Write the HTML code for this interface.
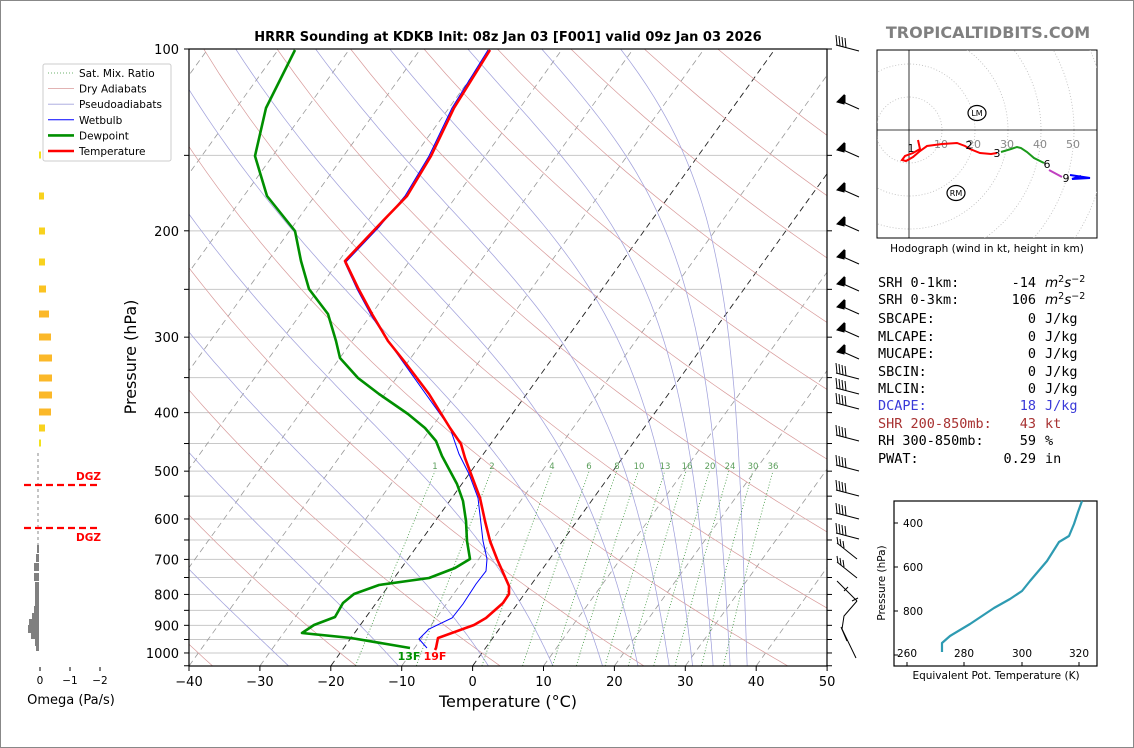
<!DOCTYPE html>
<html><head><meta charset="utf-8"><style>
html,body{margin:0;padding:0;background:#fff}
#w{position:relative;width:1132px;height:746px;border:1px solid #888;overflow:hidden;background:#fff}
svg{position:absolute;left:0;top:0}
text{font-family:"DejaVu Sans","Liberation Sans",sans-serif}
.m{font-family:"DejaVu Sans Mono","Liberation Mono",monospace;font-size:13.5px}
</style></head><body><div id="w">
<svg id="s" width="1134" height="748" viewBox="0 0 1134 748" xmlns="http://www.w3.org/2000/svg">
<defs><clipPath id="cp"><rect x="188" y="48" width="638" height="617"/></clipPath></defs>
<g id="bg" clip-path="url(#cp)"></g>
<g id="fg"></g>
</svg>
</div>
<script>
var NS="http://www.w3.org/2000/svg";
function el(par,tag,at,txt){var e=document.createElementNS(NS,tag);for(var k in at)e.setAttribute(k,at[k]);if(txt!==undefined)e.textContent=txt;par.appendChild(e);return e;}
var bg=document.getElementById('bg'),fg=document.getElementById('fg');
function yP(p){return 48+262.3*Math.log(p/100);}
function xT(T,p){return 188+(T+40)*7.09+(665-yP(p))*0.72;}
function pl(par,pts,st){return el(par,'polyline',Object.assign({points:pts.map(function(a){return a[0].toFixed(1)+','+a[1].toFixed(1)}).join(' '),fill:'none'},st));}
for(var p=100;p<=1000;p+=50){el(bg,'line',{x1:188,x2:826,y1:yP(p),y2:yP(p),stroke:'#c8c8c8','stroke-width':1});}
for(var T=-120;T<=50;T+=10){var blk=(T==0||T==-20);el(bg,'line',{x1:xT(T,1050),y1:yP(1050),x2:xT(T,100),y2:yP(100),stroke:blk?'#222':'#999','stroke-width':blk?0.9:0.8,'stroke-dasharray':'6,4'});}
for(var T0=-40;T0<=200;T0+=20){var th=T0+273.15,pts=[];for(var p=1050;p>=100;p-=10){pts.push([xT(th*Math.pow(p/1000,0.2857)-273.15,p),yP(p)]);}pl(bg,pts,{stroke:'#d89a9a','stroke-width':0.7});}
function dTdp(T,p){var tc=T-273.15;var es=6.112*Math.exp(17.67*tc/(tc+243.5));var rs=0.622*es/(p-es);var n=(287*T+2.5e6*rs)/p;var d=1004+(2.5e6*2.5e6*rs*0.622)/(287*T*T);return n/d;}
[-42,-26,-10.5,2.2,11.3,18.3,23.3,27.7,31,33.9,36.3,38.7].forEach(function(t){var T=t+273.15,p=1050,pts=[[xT(t,p),yP(p)]];while(p>100){var h=-5;var k1=dTdp(T,p);var k2=dTdp(T+h*k1,p+h);T+=h*(k1+k2)/2;p+=h;pts.push([xT(T-273.15,p),yP(p)]);}pl(bg,pts,{stroke:'#a2a2dc','stroke-width':0.75});});
[1,2,4,6,8,10,13,16,20,24,30,36].forEach(function(w){var pts=[];for(var p=1050;p>=500;p-=10){var e=w/1000*p/(0.622+w/1000);var l=Math.log(e/6.112);var td=243.5*l/(17.67-l);pts.push([xT(td,p),yP(p)]);}pl(bg,pts,{stroke:'#3c963c','stroke-width':0.8,'stroke-dasharray':'1,2'});});
var mlx={1:434,2:491,4:551,6:588,8:616,10:638,13:664,16:686,20:709,24:729,30:752,36:772};
for(var k in mlx)el(fg,'text',{x:mlx[k],y:468,'font-size':8.5,fill:'#5a9e5a','text-anchor':'middle'},k);
var red=[[489,49],[453,107],[430,155],[406,195],[378,224],[344,260],[357,287],[371,313],[387,340],[403,360],[428,393],[449,427],[460,443],[464,457],[470,473],[479,497],[484,520],[489,540],[496,558],[508,585],[508,593],[502,602],[485,617],[473,624],[437,637],[435,647],[434,649]];
var blu=[[487,49],[451,107],[428,155],[404,195],[378,226],[344,262],[356,288],[370,314],[387,340],[449,427],[458,453],[468,473],[477,497],[482,540],[486,558],[485,570],[475,583],[462,603],[451,617],[428,628],[418,638],[426,647]];
var grn=[[294,49],[265,107],[254,155],[266,195],[294,230],[300,260],[308,288],[327,313],[335,340],[339,357],[357,377],[378,393],[407,413],[424,427],[435,440],[441,455],[456,483],[462,500],[465,520],[466,540],[469,558],[454,567],[428,577],[378,584],[353,593],[342,602],[334,616],[313,624],[301,632],[350,637],[409,647]];
pl(fg,blu,{stroke:'#0000ff','stroke-width':1,'clip-path':'url(#cp)'});
pl(fg,grn,{stroke:'#008f00','stroke-width':2.6,'stroke-linejoin':'round','clip-path':'url(#cp)'});
pl(fg,red,{stroke:'#ff0000','stroke-width':2.6,'stroke-linejoin':'round','clip-path':'url(#cp)'});
el(fg,'text',{x:408,y:659,'font-size':11,'font-weight':'bold',fill:'#009000','text-anchor':'middle'},'13F');
el(fg,'text',{x:434,y:659,'font-size':11,'font-weight':'bold',fill:'#ff0000','text-anchor':'middle'},'19F');
el(fg,'rect',{x:188,y:48,width:638,height:617,fill:'none',stroke:'#000','stroke-width':1.2});
for(var p=100;p<=1050;p+=50){var y=yP(p);el(fg,'line',{x1:183,x2:188,y1:y,y2:y,stroke:'#000'});el(fg,'line',{x1:826,x2:831,y1:y,y2:y,stroke:'#000'});
 if(p%100==0&&p<=1000)el(fg,'text',{x:178,y:y+5,'font-size':13,'text-anchor':'end'},String(p));}
for(var T=-40;T<=50;T+=10){var x=188+(T+40)*7.09;el(fg,'line',{x1:x,x2:x,y1:665,y2:670,stroke:'#000'});el(fg,'text',{x:x,y:685,'font-size':13,'text-anchor':'middle'},(T<0?'\u2212'+(-T):String(T)));}
el(fg,'text',{x:507,y:706,'font-size':16,'text-anchor':'middle'},'Temperature (\u00b0C)');
el(fg,'text',{x:135,y:356,'font-size':16,'text-anchor':'middle',transform:'rotate(-90 135 356)'},'Pressure (hPa)');
el(fg,'text',{x:507,y:40,'font-size':13,'font-weight':'bold','text-anchor':'middle'},'HRRR Sounding at KDKB Init: 08z Jan 03 [F001] valid 09z Jan 03 2026');
el(fg,'rect',{x:42,y:63,width:128,height:97,fill:'#fff',stroke:'#ccc',rx:2});
[['Sat. Mix. Ratio','#3c963c',0.8,'1,2'],['Dry Adiabats','#d89a9a',0.8,''],['Pseudoadiabats','#a2a2dc',0.8,''],['Wetbulb','#0000ff',1,''],['Dewpoint','#008f00',2.6,''],['Temperature','#ff0000',2.6,'']].forEach(function(r,i){var y=72+i*15.6;el(fg,'line',{x1:47,x2:73,y1:y,y2:y,stroke:r[1],'stroke-width':r[2],'stroke-dasharray':r[3]});el(fg,'text',{x:78,y:y+4,'font-size':10.5},r[0]);});
[[154,40,'#f2e21c'],[195,43,'#f8d21e'],[230,44,'#f8d21e'],[261,44,'#f8d21e'],[288,45,'#fbc322'],[313,48,'#fbb829'],[336,50,'#fbb829'],[357,51,'#fbb829'],[377,51,'#fbb829'],[394,51,'#fbb829'],[411,50,'#fbb829'],[427,44,'#f8d21e'],[442,40,'#f2e21c']].forEach(function(b){el(fg,'rect',{x:38,y:b[0]-3.5,width:b[1]-38,height:7,fill:b[2]});});
el(fg,'line',{x1:37,x2:37,y1:452,y2:548,stroke:'#888','stroke-dasharray':'3,3'});
[[548,36],[557,35],[566,33],[576,33],[585,34],[593,34],[601,34],[609,33],[616,31],[622,28],[628,27],[634,30],[641,34],[646,35]].forEach(function(b){el(fg,'rect',{x:b[1],y:b[0]-4,width:38-b[1],height:8,fill:'#808080'});});
el(fg,'line',{x1:23,x2:99,y1:484,y2:484,stroke:'#ff0000','stroke-width':2.2,'stroke-dasharray':'7,4'});
el(fg,'line',{x1:23,x2:99,y1:527,y2:527,stroke:'#ff0000','stroke-width':2.2,'stroke-dasharray':'7,4'});
el(fg,'text',{x:100,y:479,'font-size':10.5,'font-weight':'bold',fill:'#ff0000','text-anchor':'end'},'DGZ');
el(fg,'text',{x:100,y:540,'font-size':10.5,'font-weight':'bold',fill:'#ff0000','text-anchor':'end'},'DGZ');
[[39,'0'],[69,'\u22121'],[99,'\u22122']].forEach(function(t){el(fg,'line',{x1:t[0],x2:t[0],y1:666,y2:670,stroke:'#000'});el(fg,'text',{x:t[0],y:683,'font-size':10.5,'text-anchor':'middle'},t[1]);});
el(fg,'text',{x:70,y:703,'font-size':13,'text-anchor':'middle'},'Omega (Pa/s)');
function barb(y,kind){var g=el(fg,'g',{stroke:'#000','stroke-width':1,fill:'#000'});
 if(kind=='p'){el(g,'line',{x1:840,y1:y,x2:858,y2:y+8});el(g,'polygon',{points:(836)+','+(y+1)+' '+(843)+','+(y-6)+' '+(843)+','+(y+3)});el(g,'line',{x1:844,y1:y+2,x2:844,y2:y-6});}
 else if(kind=='t'){el(g,'line',{x1:835,y1:y+2,x2:858,y2:y+8});for(var i=0;i<4;i++)el(g,'line',{x1:836+i*3,y1:y+2+i,x2:835+i*3,y2:y-8+i});}
 else if(kind=='s'){el(g,'line',{x1:836,y1:y-6,x2:856,y2:y+10});for(var i=0;i<3;i++)el(g,'line',{x1:837+i*3,y1:y-5+i*2,x2:836+i*3,y2:y-12+i*2});}}
barb(42,'t');[100,148,188,222,255,282,305,328,350].forEach(function(y){barb(y,'p');});
[370,385,400,432,462,487,510,530].forEach(function(y){barb(y,'t');});
[548,567].forEach(function(y){barb(y,'s');});
var lg=el(fg,'g',{stroke:'#000','stroke-width':1,fill:'none'});
pl(lg,[[836,580],[856,600]],{});pl(lg,[[856,600],[843,615],[841,628],[855,657]],{});pl(lg,[[840,626],[846,640]],{});pl(lg,[[843,590],[847,586]],{});pl(lg,[[851,600],[857,597]],{});
var hg=el(fg,'g',{});
el(hg,'rect',{x:876,y:49,width:220,height:188,fill:'#fff',stroke:'#000','stroke-width':1});
var cl=el(document.querySelector('defs'),'clipPath',{id:'hcl'});el(cl,'rect',{x:876,y:49,width:220,height:188});
var hc=el(hg,'g',{'clip-path':'url(#hcl)'});
for(var r=1;r<=6;r++)el(hc,'circle',{cx:908,cy:129,r:r*33,fill:'none',stroke:'#bbb','stroke-width':0.8,'stroke-dasharray':'1,2'});
el(hc,'line',{x1:908,x2:908,y1:49,y2:237,stroke:'#000','stroke-width':0.8});el(hc,'line',{x1:876,x2:1096,y1:129,y2:129,stroke:'#000','stroke-width':0.8});
[[940,'10'],[973,'20'],[1006,'30'],[1039,'40'],[1072,'50']].forEach(function(t){el(hg,'text',{x:t[0],y:147,'font-size':11,fill:'#888','text-anchor':'middle'},t[1]);});
pl(hg,[[917,139],[919,148],[912,152],[904,155],[901,159],[905,160],[912,156],[919,150],[926,145],[941,143],[956,142],[964,145],[969,148],[979,152],[990,153],[996,152]],{stroke:'#ff0000','stroke-width':2});
pl(hg,[[1000,151],[1010,148],[1016,146],[1020,147],[1026,151],[1033,157],[1043,162]],{stroke:'#1a9a1a','stroke-width':2});
pl(hg,[[1048,169],[1061,176]],{stroke:'#c040c0','stroke-width':2});
pl(hg,[[1069,174],[1089,177],[1071,178],[1080,175]],{stroke:'#0000ff','stroke-width':2});
[[910,151,'1'],[968,148,'2'],[996,156,'3'],[1046,167,'6'],[1065,181,'9']].forEach(function(t){el(hg,'text',{x:t[0],y:t[1],'font-size':11,'text-anchor':'middle'},t[2]);});
el(hg,'ellipse',{cx:976,cy:112,rx:9,ry:7.5,fill:'none',stroke:'#000','stroke-width':1.2});el(hg,'text',{x:976,y:115,'font-size':8,'text-anchor':'middle'},'LM');
el(hg,'ellipse',{cx:955,cy:192,rx:9,ry:7.5,fill:'none',stroke:'#000','stroke-width':1.2});el(hg,'text',{x:955,y:195,'font-size':8,'text-anchor':'middle'},'RM');
el(fg,'text',{x:986,y:251,'font-size':10.5,'text-anchor':'middle'},'Hodograph (wind in kt, height in km)');
el(fg,'text',{x:987,y:37,'font-size':16,'font-weight':'bold',fill:'#808080','text-anchor':'middle'},'TROPICALTIDBITS.COM');
var rows=[['SRH 0-1km:','-14','m2','#000'],['SRH 0-3km:','106','m2','#000'],['SBCAPE:','0','J/kg','#000'],['MLCAPE:','0','J/kg','#000'],['MUCAPE:','0','J/kg','#000'],['SBCIN:','0','J/kg','#000'],['MLCIN:','0','J/kg','#000'],['DCAPE:','18','J/kg','#3a3ad8'],['SHR 200-850mb:','43','kt','#a83232'],['RH 300-850mb:','59','%','#000'],['PWAT:','0.29','in','#000']];
var ys=[286,303,322,340,357,375,392,409,427,444,462];
rows.forEach(function(r,i){var y=ys[i];el(fg,'text',{x:877,y:y,'class':'m',fill:r[3]},r[0]);el(fg,'text',{x:1035,y:y,'class':'m',fill:r[3],'text-anchor':'end'},r[1]);
 if(r[2]=='m2'){var t=el(fg,'text',{x:1044,y:y,'font-size':13.5,'font-style':'italic','font-family':'DejaVu Serif,Liberation Serif,serif'});el(t,'tspan',{},'m');el(t,'tspan',{dy:-5,'font-size':9.5,'font-style':'normal'},'2');el(t,'tspan',{dy:5},'s');el(t,'tspan',{dy:-5,'font-size':9.5,'font-style':'normal'},'\u22122');}
 else el(fg,'text',{x:1044,y:y,'class':'m',fill:r[3]},r[2]);});
el(fg,'rect',{x:893,y:500,width:203,height:165,fill:'none',stroke:'#000','stroke-width':1.2});
[[522,'400'],[566,'600'],[610,'800'],[654,'']].forEach(function(t){el(fg,'line',{x1:893,x2:897,y1:t[0],y2:t[0],stroke:'#000'});if(t[1])el(fg,'text',{x:902,y:t[0]+4,'font-size':10.5},t[1]);});
[[906,'260'],[963,'280'],[1021,'300'],[1078,'320']].forEach(function(t){el(fg,'line',{x1:t[0],x2:t[0],y1:661,y2:665,stroke:'#000'});el(fg,'text',{x:t[0],y:656,'font-size':10.5,'text-anchor':'middle'},t[1]);});
pl(fg,[[1081,500],[1077,511],[1073,523],[1068,535],[1058,541],[1046,560],[1029,580],[1021,590],[1009,598],[993,607],[969,623],[949,635],[941,642],[941,651]],{stroke:'#2e9bb2','stroke-width':2.2,'stroke-linejoin':'round'});
el(fg,'text',{x:995,y:678,'font-size':10.5,'text-anchor':'middle'},'Equivalent Pot. Temperature (K)');
el(fg,'text',{x:884,y:582,'font-size':10.5,'text-anchor':'middle',transform:'rotate(-90 884 582)'},'Pressure (hPa)');
</script>
</body></html>
